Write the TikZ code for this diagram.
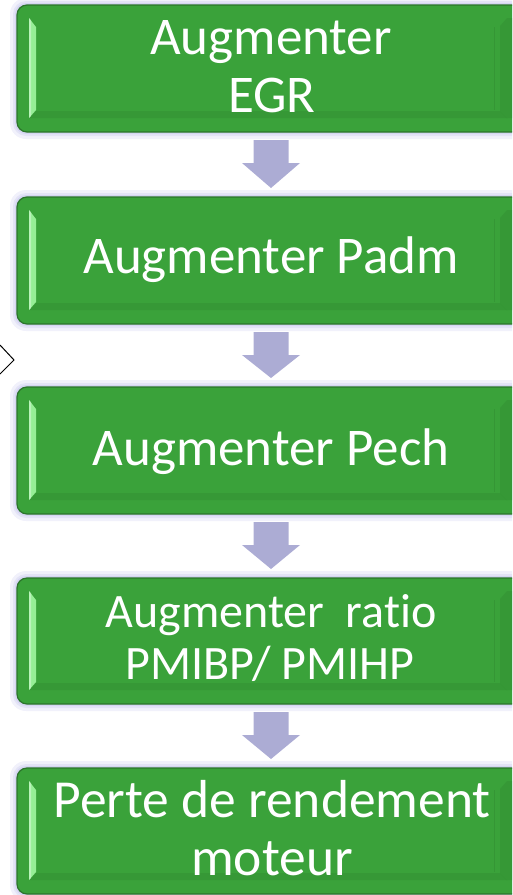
\documentclass[tikz,border=0pt]{standalone}
\usepackage{fontspec}
\setmainfont{Carlito}[Ligatures=NoCommon]
\usetikzlibrary{calc}
\definecolor{boxgreen}{RGB}{58,162,58}
\definecolor{boxedge}{RGB}{44,116,44}
\definecolor{bevlight}{RGB}{150,238,150}
\definecolor{bevdark}{RGB}{46,132,46}
\definecolor{arrowlav}{RGB}{172,172,212}
\definecolor{glow}{RGB}{200,200,238}
\tikzset{
  gbox/.style={draw=boxedge, line width=1.2pt, fill=boxgreen, rounded corners=10pt,
    minimum width=510pt, inner sep=0pt, outer sep=0pt},
  lbl/.style={text=white, font=\fontsize{53}{58}\selectfont, inner sep=0pt, anchor=base},
  lblsmall/.style={lbl, font=\fontsize{48}{52}\selectfont},
  lblbig/.style={lbl, font=\fontsize{53.5}{58}\selectfont},
  lavfill/.style={fill=arrowlav},
}
\newcommand\greenbox[3]{%
  \pgfmathsetmacro\bh{#3-#2}%
  \pgfmathsetmacro\bc{(#2+#3)/2}%
  \fill[glow, opacity=0.25, rounded corners=16pt] (10,{#2-7}) rectangle (534,{#3+7});
  \fill[glow, opacity=0.35, rounded corners=13pt] (13,{#2-4}) rectangle (531,{#3+4});
  \fill[glow, opacity=0.5, rounded corners=11pt] (15,{#2-2}) rectangle (529,{#3+2});
  \node[gbox, minimum height=\bh pt] (#1) at (272,\bc) {};
  \fill[bevdark, opacity=0.3] (29,{#3-14}) -- (36,{#3-21}) -- (500,{#3-21}) -- (507,{#3-14}) -- cycle;
  \fill[bevdark, opacity=0.3] (500,{#2+21}) -- (507,{#2+13}) -- (526,{#2+13}) -- (526,{#3-14}) -- (507,{#3-14}) -- (500,{#3-21}) -- cycle;
  \draw[bevdark, opacity=0.4, line width=0.6pt] (494,{#2+22}) -- (494,{#3-22});
  \fill[bevlight] (29,{#2+13}) -- (36,{#2+22}) -- (36,{#3-22}) -- (29,{#3-14}) -- cycle;
  \fill[white, opacity=0.35] (29,{#2+13}) -- (31,{#2+15}) -- (31,{#3-16}) -- (29,{#3-14}) -- cycle;
}
\newcommand\lavarrow[2]{%
  \fill[lavfill] ($(#1.south)+(-18.5,8)$) -- ($(#1.south)+(16.5,8)$) -- ($(#1.south)+(16.5,31)$)
    -- ($(#1.south)+(28,31)$) -- ($(#2.north)+(-1,-9)$) -- ($(#1.south)+(-30,31)$)
    -- ($(#1.south)+(-18.5,31)$) -- cycle;
}
\begin{document}
\begin{tikzpicture}[x=1pt,y=-1pt]
\useasboundingbox (0,0) rectangle (512,895);
\begin{scope}
\clip (0,0) rectangle (512,895);
\greenbox{b1}{5}{132}
\greenbox{b2}{197}{324}
\greenbox{b3}{387}{514}
\greenbox{b4}{578}{704}
\greenbox{b5}{768}{894}
\lavarrow{b1}{b2}
\lavarrow{b2}{b3}
\lavarrow{b3}{b4}
\lavarrow{b4}{b5}
\node[lbl] (t1a) at (271,54) {Augmenter};
\node[lbl] (t1b) at (272,112) {EGR};
\node[lbl] (t2) at (271,273) {Augmenter Padm};
\node[lbl] (t3) at (271,465) {Augmenter Pech};
\node[lblsmall] (t4a) at (271,627) {Augmenter\ \ ratio};
\node[lblsmall] (t4b) at (270,679) {PMIBP/ PMIHP};
\node[lblbig] (t5a) at (272,817) {Perte de rendement};
\node[lblbig] (t5b) at (272,875) {moteur};
\draw[line width=1pt, black] (0,345) -- (14,360) -- (0,374);
\end{scope}
\end{tikzpicture}
\end{document}
